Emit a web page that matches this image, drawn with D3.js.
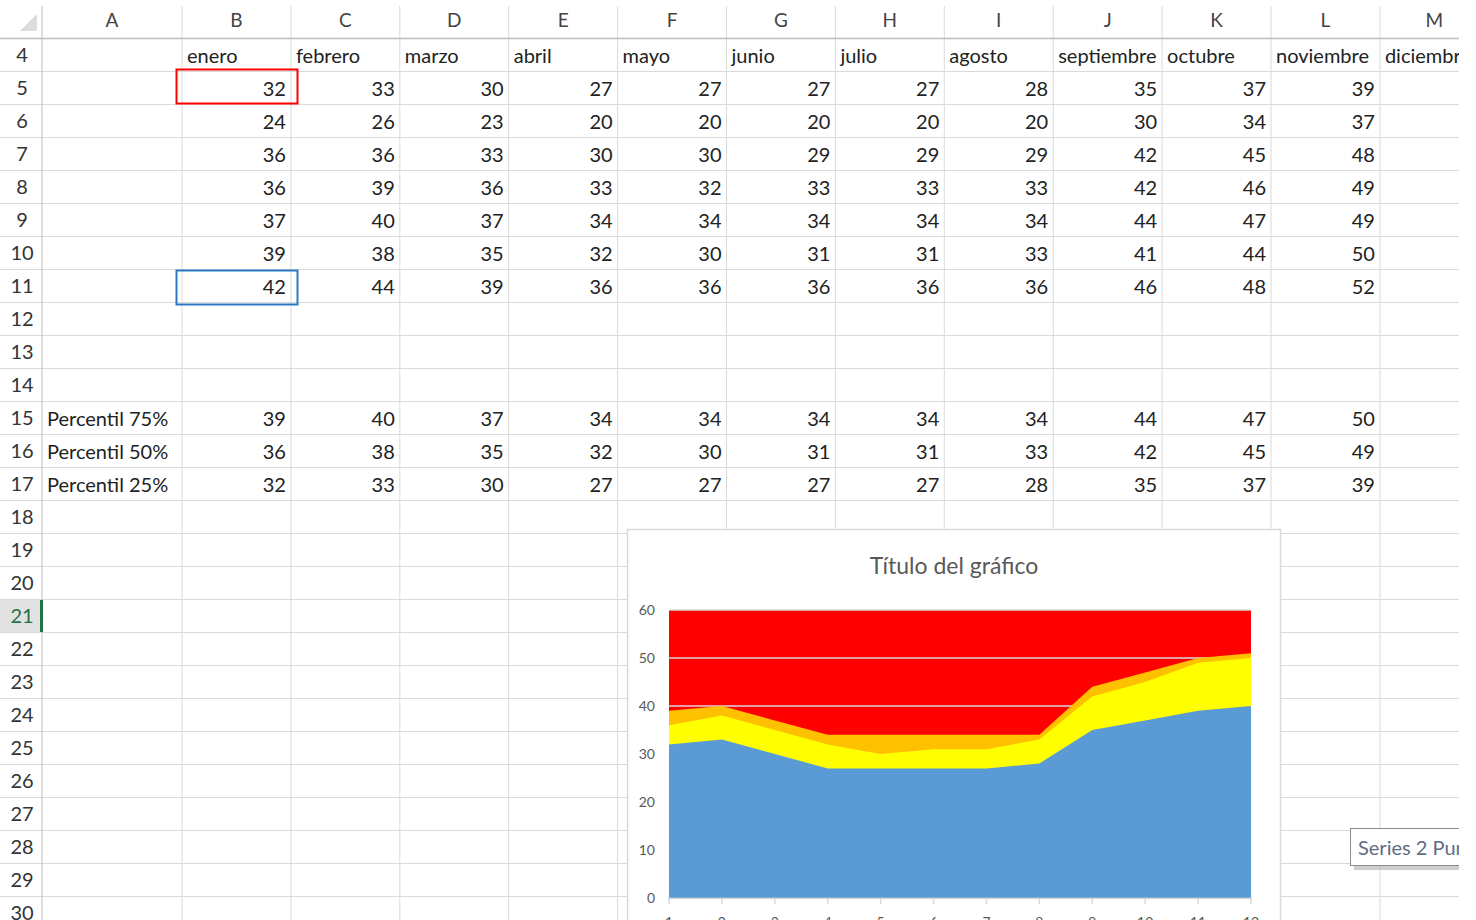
<!DOCTYPE html>
<html lang="es">
<head>
  <meta charset="UTF-8">
  <script src="https://cdn.jsdelivr.net/npm/d3@7/dist/d3.min.js"></script>
  <title>Percentiles por mes</title>
  <style>
    body { margin: 0; background: #fff; }
    svg { display: block; font-family: Lato, "Liberation Sans", sans-serif; }
  </style>
</head>
<body>
<svg id="sheet" width="1476" height="920"></svg>
<script>
  // sheet data
  const colLetters = ["A","B","C","D","E","F","G","H","I","J","K","L","M"];
  const months = ["enero","febrero","marzo","abril","mayo","junio","julio","agosto","septiembre","octubre","noviembre","diciembre"];
  const row5  = [32,33,30,27,27,27,27,28,35,37,39];
  const row6  = [24,26,23,20,20,20,20,20,30,34,37];
  const row7  = [36,36,33,30,30,29,29,29,42,45,48];
  const row8  = [36,39,36,33,32,33,33,33,42,46,49];
  const row9  = [37,40,37,34,34,34,34,34,44,47,49];
  const row10 = [39,38,35,32,30,31,31,33,41,44,50];
  const row11 = [42,44,39,36,36,36,36,36,46,48,52];
  const pctLabels = ["Percentil 75%","Percentil 50%","Percentil 25%"];
  const p75 = [39,40,37,34,34,34,34,34,44,47,50,51];
  const p50 = [36,38,35,32,30,31,31,33,42,45,49,50];
  const p25 = [32,33,30,27,27,27,27,28,35,37,39,40];
  const yTicks = [0,10,20,30,40,50,60];
  const chartTitle = "Título del gráfico";

  let svg = d3.select("#sheet");

  /* SHEET GEOMETRY */
  const rowH = 33;
  const rowTop = r => 38 + (r - 4) * rowH;
  const colEdges = [42, 182];
  for (let i = 1; i <= 12; i++) colEdges.push(182 + i * 108.9);
  const colLeft = i => colEdges[i];
  const colRight = i => colEdges[i + 1];
  const visibleCols = 11; // diciembre values sit past the window edge

  svg.append("clipPath").attr("id", "view")
    .append("rect").attr("width", 1459).attr("height", 920);
  let sheet = svg.append("g").attr("clip-path", "url(#view)");

  // top-left corner triangle
  sheet.append("path").attr("d", "M37,14 L37,31 L20,31 Z").attr("fill", "#dcdcdc");

  // row lines
  sheet.selectAll(".hline")
    .data(d3.range(5, 32))
    .enter().append("line")
    .attr("x1", 0).attr("x2", 1459)
    .attr("y1", d => rowTop(d) + 0.5).attr("y2", d => rowTop(d) + 0.5)
    .attr("stroke", "#dadada");

  // column lines
  sheet.selectAll(".vline")
    .data(colEdges)
    .enter().append("line")
    .attr("x1", d => d).attr("x2", d => d)
    .attr("y1", 6).attr("y2", 920)
    .attr("stroke", (d, i) => i === 0 ? "#bdbdbd" : "#dadada");

  // header border
  sheet.append("line").attr("x1", 0).attr("x2", 1459).attr("y1", 38.5).attr("y2", 38.5)
    .attr("stroke", "#bdbdbd").attr("stroke-width", 1.5);

  // selected row 21
  sheet.append("rect").attr("x", 0).attr("y", rowTop(21) + 1).attr("width", 41).attr("height", rowH - 1)
    .attr("fill", "#e2e2e2");
  sheet.append("rect").attr("x", 40).attr("y", rowTop(21) + 1).attr("width", 3).attr("height", rowH - 1)
    .attr("fill", "#217346");

  // column letters
  sheet.selectAll(".colhead")
    .data(colLetters)
    .enter().append("text")
    .attr("x", (d, i) => (colLeft(i) + colRight(i)) / 2)
    .attr("y", 27)
    .attr("text-anchor", "middle")
    .attr("font-size", 19)
    .attr("fill", "#444")
    .text(d => d);

  // row numbers
  sheet.selectAll(".rowhead")
    .data(d3.range(4, 31))
    .enter().append("text")
    .attr("x", 22)
    .attr("y", d => rowTop(d) + 24)
    .attr("text-anchor", "middle")
    .attr("font-size", 20)
    .attr("fill", d => d === 21 ? "#217346" : "#333")
    .text(d => d);

  // month names in row 4
  sheet.selectAll(".month")
    .data(months)
    .enter().append("text")
    .attr("x", (d, i) => colLeft(i + 1) + 5)
    .attr("y", rowTop(4) + 25)
    .attr("font-size", 20)
    .attr("fill", "#222")
    .text(d => d);

  // numeric rows
  function numberRow(values, r) {
    sheet.append("g").selectAll("text")
      .data(values.slice(0, visibleCols))
      .enter().append("text")
      .attr("x", (d, i) => colRight(i + 1) - 5)
      .attr("y", rowTop(r) + 25)
      .attr("text-anchor", "end")
      .attr("font-size", 20)
      .attr("fill", "#222")
      .text(d => d);
  }
  [row5, row6, row7, row8, row9, row10, row11].forEach((v, i) => numberRow(v, 5 + i));
  [p75, p50, p25].forEach((v, i) => numberRow(v, 15 + i));

  sheet.selectAll(".pct")
    .data(pctLabels)
    .enter().append("text")
    .attr("x", 47)
    .attr("y", (d, i) => rowTop(15 + i) + 25)
    .attr("font-size", 20)
    .attr("fill", "#222")
    .text(d => d);

  // selection boxes
  sheet.append("rect").attr("x", 176.5).attr("y", 69.5).attr("width", 121).attr("height", 34)
    .attr("fill", "none").attr("stroke", "#ff0000").attr("stroke-width", 2);
  sheet.append("rect").attr("x", 176.5).attr("y", 270.5).attr("width", 121).attr("height", 34)
    .attr("fill", "none").attr("stroke", "#2b79c2").attr("stroke-width", 2);

  /* CHART */
  let chart = sheet.append("g");
  chart.append("rect")
    .attr("x", 627.5).attr("y", 529.5).attr("width", 653).attr("height", 420)
    .attr("fill", "#fff").attr("stroke", "#d9d9d9").attr("stroke-width", 1.5);

  chart.append("text")
    .attr("x", 954).attr("y", 574)
    .attr("text-anchor", "middle")
    .attr("font-size", 23)
    .attr("fill", "#595959")
    .text(chartTitle);

  let x = d3.scalePoint().domain(d3.range(12)).range([669, 1251]);
  let y = d3.scaleLinear().domain([0, 60]).range([898, 610]);

  // plot area fill
  chart.append("rect")
    .attr("x", x(0)).attr("y", y(60))
    .attr("width", x(11) - x(0)).attr("height", y(0) - y(60))
    .attr("fill", "#ff0000");

  chart.selectAll(".grid")
    .data(yTicks)
    .enter().append("line")
    .attr("x1", x(0)).attr("x2", x(11))
    .attr("y1", d => y(d)).attr("y2", d => y(d))
    .attr("stroke", "#d9d9d9").attr("stroke-width", 1.5);

  let area = (vals) => d3.area()
    .x((d, i) => x(i))
    .y0(y(0))
    .y1(d => y(d))(vals);

  chart.append("path").attr("d", area(p75)).attr("fill", "#ffc000");
  chart.append("path").attr("d", area(p50)).attr("fill", "#ffff00");
  chart.append("path").attr("d", area(p25)).attr("fill", "#5b9bd5");

  // x axis
  chart.append("line").attr("x1", x(0)).attr("x2", x(11)).attr("y1", y(0) + 0.5).attr("y2", y(0) + 0.5)
    .attr("stroke", "#d9d9d9").attr("stroke-width", 1.5);
  chart.selectAll(".xtick")
    .data(d3.range(12))
    .enter().append("line")
    .attr("x1", d => x(d)).attr("x2", d => x(d))
    .attr("y1", y(0)).attr("y2", y(0) + 6)
    .attr("stroke", "#d9d9d9").attr("stroke-width", 1.5);
  chart.selectAll(".xlabel")
    .data(d3.range(12))
    .enter().append("text")
    .attr("x", d => x(d))
    .attr("y", y(0) + 29)
    .attr("text-anchor", "middle")
    .attr("font-size", 14)
    .attr("fill", "#595959")
    .text(d => d + 1);

  // y labels
  chart.selectAll(".ylabel")
    .data(yTicks)
    .enter().append("text")
    .attr("x", 655)
    .attr("y", d => y(d))
    .attr("dy", "0.35em")
    .attr("text-anchor", "end")
    .attr("font-size", 14)
    .attr("fill", "#595959")
    .text(d => d);

  /* TOOLTIP */
  sheet.append("rect").attr("x", 1354).attr("y", 832).attr("width", 130).attr("height", 38)
    .attr("fill", "#b8b8b8").attr("opacity", 0.7);
  sheet.append("rect").attr("x", 1350.5).attr("y", 828.5).attr("width", 130).attr("height", 37)
    .attr("fill", "#fff").attr("stroke", "#8c8c8c");
  sheet.append("text").attr("x", 1358).attr("y", 855)
    .attr("font-size", 20).attr("fill", "#5f6b84")
    .text("Series 2 Punto");
</script>
</body>
</html>
